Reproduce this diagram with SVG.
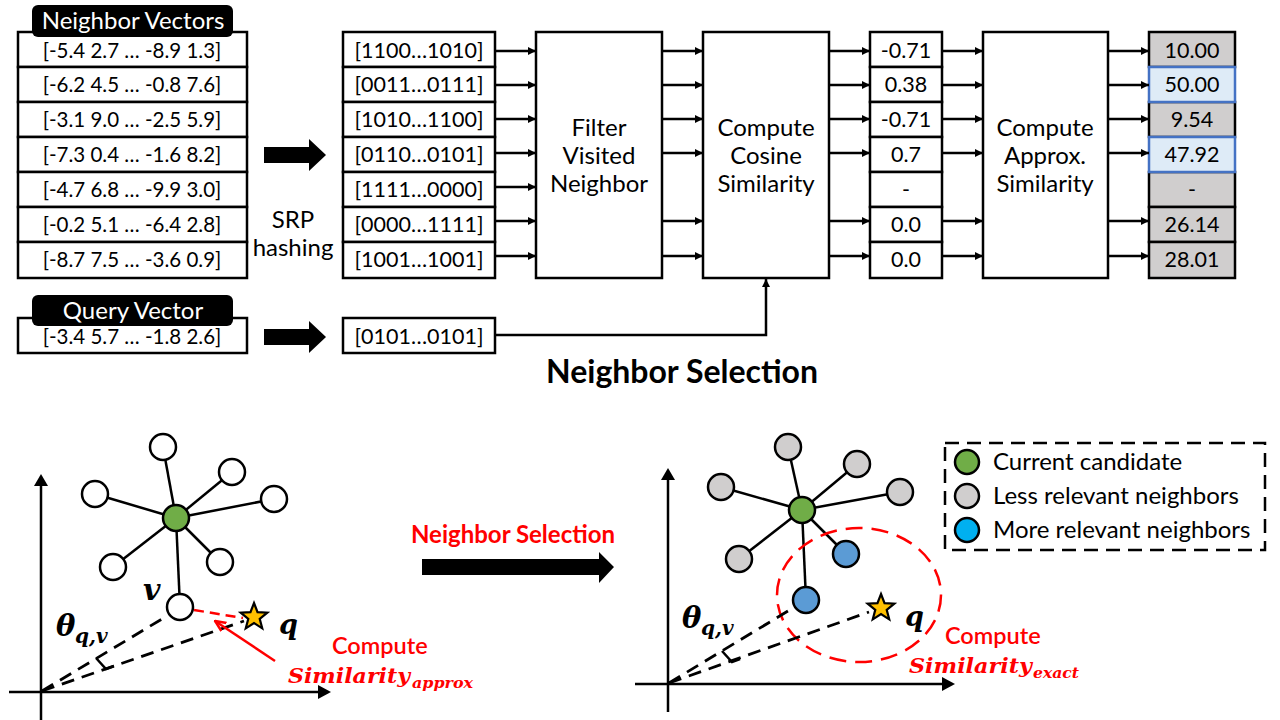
<svg xmlns="http://www.w3.org/2000/svg" width="1280" height="720" viewBox="0 0 1280 720">
<style>
text{font-family:Lato,"Noto Sans","DejaVu Sans",sans-serif;fill:#000}
.cell{fill:#fff;stroke:#000;stroke-width:2.5}
.gray{fill:#d0cece;stroke:#000;stroke-width:2.5}
.blue{fill:#deebf7;stroke:#4472c4;stroke-width:2.5}
.big{fill:#fff;stroke:#000;stroke-width:2.5}
.t20{font-size:20.5px;text-anchor:middle}
.t21{font-size:21.5px;text-anchor:middle}
.t24{font-size:24px;text-anchor:middle}
.lbl{fill:#fff;font-size:24px;text-anchor:middle}
.con{stroke:#000;stroke-width:2.5;fill:none}
.edge{stroke:#000;stroke-width:2.5}
.node{stroke:#000;stroke-width:2.5}
.dash{stroke:#000;stroke-width:2.8;stroke-dasharray:13 8;fill:none}
.math{font-family:"DejaVu Serif","Liberation Serif",serif;font-style:italic;font-weight:bold}
.red{fill:#ff0000}
</style>
<defs>
<marker id="ah" viewBox="0 0 10 10" refX="10" refY="5" markerWidth="9" markerHeight="8" markerUnits="userSpaceOnUse" orient="auto">
<path d="M0,0 L10,5 L0,10 z" fill="#000"/>
</marker>
<marker id="rah" viewBox="0 0 10 10" refX="9" refY="5" markerWidth="12" markerHeight="12" markerUnits="userSpaceOnUse" orient="auto">
<path d="M0,1 L9,5 L0,9" fill="none" stroke="#ff0000" stroke-width="2"/>
</marker>
<path id="star" d="M0,-14 L3.53,-4.85 L13.31,-4.33 L5.71,1.85 L8.23,11.33 L0,6 L-8.23,11.33 L-5.71,1.85 L-13.31,-4.33 L-3.53,-4.85 Z" fill="#ffc000" stroke="#000" stroke-width="2.2" stroke-linejoin="miter"/>
<path id="blockR" d="M0,-8 L45,-8 L45,-16 L62,0 L45,16 L45,8 L0,8 Z" fill="#000"/>
</defs>

<!-- Neighbor vectors -->
<g id="neighbor-vectors">
<rect class="cell" x="18" y="32" width="229" height="35"/>
<rect class="cell" x="18" y="67" width="229" height="35"/>
<rect class="cell" x="18" y="102" width="229" height="35"/>
<rect class="cell" x="18" y="137" width="229" height="35"/>
<rect class="cell" x="18" y="172" width="229" height="35"/>
<rect class="cell" x="18" y="207" width="229" height="35"/>
<rect class="cell" x="18" y="242" width="229" height="36"/>
<rect x="32" y="5" width="201" height="32" rx="6" fill="#000"/>
<text class="lbl" x="133" y="29">Neighbor Vectors</text>
<text class="t20" x="132" y="58">[-5.4 2.7 … -8.9 1.3]</text>
<text class="t20" x="132" y="92">[-6.2 4.5 … -0.8 7.6]</text>
<text class="t20" x="132" y="127">[-3.1 9.0 … -2.5 5.9]</text>
<text class="t20" x="132" y="162">[-7.3 0.4 … -1.6 8.2]</text>
<text class="t20" x="132" y="197">[-4.7 6.8 … -9.9 3.0]</text>
<text class="t20" x="132" y="232">[-0.2 5.1 … -6.4 2.8]</text>
<text class="t20" x="132" y="267">[-8.7 7.5 … -3.6 0.9]</text>
</g>

<g id="query-vector">
<rect class="cell" x="18" y="318" width="229" height="35"/>
<rect x="32" y="295" width="201" height="31" rx="6" fill="#000"/>
<text class="lbl" x="133" y="319">Query Vector</text>
<text class="t20" x="132" y="344">[-3.4 5.7 … -1.8 2.6]</text>
</g>

<g id="srp">
<use href="#blockR" x="264" y="155"/>
<use href="#blockR" x="264" y="337"/>
<text class="t24" x="293" y="228">SRP</text>
<text class="t24" x="293" y="256">hashing</text>
</g>

<!-- Hash codes -->
<g id="hash-codes">
<rect class="cell" x="343" y="32" width="152" height="35"/>
<rect class="cell" x="343" y="67" width="152" height="35"/>
<rect class="cell" x="343" y="102" width="152" height="35"/>
<rect class="cell" x="343" y="137" width="152" height="35"/>
<rect class="cell" x="343" y="172" width="152" height="35"/>
<rect class="cell" x="343" y="207" width="152" height="35"/>
<rect class="cell" x="343" y="242" width="152" height="36"/>
<text class="t21" x="419" y="58">[1100…1010]</text>
<text class="t21" x="419" y="92">[0011…0111]</text>
<text class="t21" x="419" y="127">[1010…1100]</text>
<text class="t21" x="419" y="162">[0110…0101]</text>
<text class="t21" x="419" y="197">[1111…0000]</text>
<text class="t21" x="419" y="232">[0000…1111]</text>
<text class="t21" x="419" y="267">[1001…1001]</text>
</g>

<g id="query-hash">
<rect class="cell" x="343" y="318" width="152" height="35"/>
<text class="t21" x="419" y="344">[0101…0101]</text>
</g>

<g id="filter">
<rect class="big" x="536" y="32" width="126" height="246"/>
<text class="t24" x="599" y="136">Filter</text>
<text class="t24" x="599" y="164">Visited</text>
<text class="t24" x="599" y="192">Neighbor</text>
</g>

<g id="cosine">
<rect class="big" x="703" y="32" width="126" height="246"/>
<text class="t24" x="766" y="136">Compute</text>
<text class="t24" x="766" y="164">Cosine</text>
<text class="t24" x="766" y="192">Similarity</text>
</g>

<g id="cosine-values">
<rect class="cell" x="870" y="32" width="72" height="35"/>
<rect class="cell" x="870" y="67" width="72" height="35"/>
<rect class="cell" x="870" y="102" width="72" height="35"/>
<rect class="cell" x="870" y="137" width="72" height="35"/>
<rect class="cell" x="870" y="172" width="72" height="35"/>
<rect class="cell" x="870" y="207" width="72" height="35"/>
<rect class="cell" x="870" y="242" width="72" height="36"/>
<text class="t21" x="906" y="58">-0.71</text>
<text class="t21" x="906" y="92">0.38</text>
<text class="t21" x="906" y="127">-0.71</text>
<text class="t21" x="906" y="162">0.7</text>
<text class="t21" x="906" y="197">-</text>
<text class="t21" x="906" y="232">0.0</text>
<text class="t21" x="906" y="267">0.0</text>
</g>

<g id="approx">
<rect class="big" x="983" y="32" width="125" height="246"/>
<text class="t24" x="1045" y="136">Compute</text>
<text class="t24" x="1045" y="164">Approx.</text>
<text class="t24" x="1045" y="192">Similarity</text>
</g>

<g id="approx-values">
<rect class="gray" x="1149" y="32" width="86" height="35"/>
<rect class="gray" x="1149" y="102" width="86" height="35"/>
<rect class="gray" x="1149" y="172" width="86" height="35"/>
<rect class="gray" x="1149" y="207" width="86" height="35"/>
<rect class="gray" x="1149" y="242" width="86" height="36"/>
<rect class="blue" x="1149" y="67" width="86" height="35"/>
<rect class="blue" x="1149" y="137" width="86" height="35"/>
<text class="t21" x="1192" y="58">10.00</text>
<text class="t21" x="1192" y="92">50.00</text>
<text class="t21" x="1192" y="127">9.54</text>
<text class="t21" x="1192" y="162">47.92</text>
<text class="t21" x="1192" y="197">-</text>
<text class="t21" x="1192" y="232">26.14</text>
<text class="t21" x="1192" y="267">28.01</text>
</g>

<g id="connectors">
<line class="con" x1="495" y1="51" x2="536" y2="51" marker-end="url(#ah)"/>
<line class="con" x1="495" y1="85" x2="536" y2="85" marker-end="url(#ah)"/>
<line class="con" x1="495" y1="119" x2="536" y2="119" marker-end="url(#ah)"/>
<line class="con" x1="495" y1="153" x2="536" y2="153" marker-end="url(#ah)"/>
<line class="con" x1="495" y1="187" x2="536" y2="187" marker-end="url(#ah)"/>
<line class="con" x1="495" y1="221" x2="536" y2="221" marker-end="url(#ah)"/>
<line class="con" x1="495" y1="256" x2="536" y2="256" marker-end="url(#ah)"/>
<line class="con" x1="662" y1="51" x2="703" y2="51" marker-end="url(#ah)"/>
<line class="con" x1="662" y1="85" x2="703" y2="85" marker-end="url(#ah)"/>
<line class="con" x1="662" y1="119" x2="703" y2="119" marker-end="url(#ah)"/>
<line class="con" x1="662" y1="153" x2="703" y2="153" marker-end="url(#ah)"/>
<line class="con" x1="662" y1="221" x2="703" y2="221" marker-end="url(#ah)"/>
<line class="con" x1="662" y1="256" x2="703" y2="256" marker-end="url(#ah)"/>
<line class="con" x1="829" y1="51" x2="870" y2="51" marker-end="url(#ah)"/>
<line class="con" x1="829" y1="85" x2="870" y2="85" marker-end="url(#ah)"/>
<line class="con" x1="829" y1="119" x2="870" y2="119" marker-end="url(#ah)"/>
<line class="con" x1="829" y1="153" x2="870" y2="153" marker-end="url(#ah)"/>
<line class="con" x1="829" y1="221" x2="870" y2="221" marker-end="url(#ah)"/>
<line class="con" x1="829" y1="256" x2="870" y2="256" marker-end="url(#ah)"/>
<line class="con" x1="942" y1="51" x2="983" y2="51" marker-end="url(#ah)"/>
<line class="con" x1="942" y1="85" x2="983" y2="85" marker-end="url(#ah)"/>
<line class="con" x1="942" y1="119" x2="983" y2="119" marker-end="url(#ah)"/>
<line class="con" x1="942" y1="153" x2="983" y2="153" marker-end="url(#ah)"/>
<line class="con" x1="942" y1="221" x2="983" y2="221" marker-end="url(#ah)"/>
<line class="con" x1="942" y1="256" x2="983" y2="256" marker-end="url(#ah)"/>
<line class="con" x1="1108" y1="51" x2="1149" y2="51" marker-end="url(#ah)"/>
<line class="con" x1="1108" y1="85" x2="1149" y2="85" marker-end="url(#ah)"/>
<line class="con" x1="1108" y1="119" x2="1149" y2="119" marker-end="url(#ah)"/>
<line class="con" x1="1108" y1="153" x2="1149" y2="153" marker-end="url(#ah)"/>
<line class="con" x1="1108" y1="221" x2="1149" y2="221" marker-end="url(#ah)"/>
<line class="con" x1="1108" y1="256" x2="1149" y2="256" marker-end="url(#ah)"/>
<polyline class="con" points="495,335 766,335 766,279" marker-end="url(#ah)"/>
</g>

<text x="682" y="383" font-size="32" font-weight="bold" text-anchor="middle">Neighbor Selection</text>

<!-- Bottom left scene -->
<g id="scene-left">
<line class="con" x1="41" y1="720" x2="41" y2="484" stroke-width="3"/>
<path d="M34,486 L41,474 L48,486 Z" fill="#000"/>
<line class="con" x1="9" y1="692" x2="320" y2="692" stroke-width="3"/>
<path d="M318,685 L331,692 L318,699 Z" fill="#000"/>
<line class="edge" x1="176" y1="518" x2="163" y2="447"/>
<line class="edge" x1="176" y1="518" x2="232" y2="472"/>
<line class="edge" x1="176" y1="518" x2="274" y2="499"/>
<line class="edge" x1="176" y1="518" x2="95" y2="494"/>
<line class="edge" x1="176" y1="518" x2="113" y2="567"/>
<line class="edge" x1="176" y1="518" x2="220" y2="562"/>
<line class="edge" x1="176" y1="518" x2="180" y2="607"/>
<circle class="node" cx="163" cy="447" r="13" fill="#fff"/>
<circle class="node" cx="232" cy="472" r="13" fill="#fff"/>
<circle class="node" cx="274" cy="499" r="13" fill="#fff"/>
<circle class="node" cx="95" cy="494" r="13" fill="#fff"/>
<circle class="node" cx="113" cy="567" r="13" fill="#fff"/>
<circle class="node" cx="220" cy="562" r="13" fill="#fff"/>
<circle class="node" cx="176" cy="518" r="13" fill="#70ad47"/>
<line class="dash" x1="42" y1="691" x2="167" y2="616"/>
<line class="dash" x1="42" y1="691" x2="244" y2="621"/>
<polyline class="con" points="96,658 106,669 114,666"/>
<circle class="node" cx="180" cy="607" r="13" fill="#fff"/>
<line x1="194" y1="610" x2="243" y2="618" stroke="#ff0000" stroke-width="2.5" stroke-dasharray="10 6"/>
<use href="#star" x="254" y="617"/>
<line x1="275" y1="661" x2="215" y2="621" stroke="#ff0000" stroke-width="2.5" marker-end="url(#rah)"/>
<text class="math" x="143" y="600" font-size="30">v</text>
<text class="math" x="56" y="636" font-size="29">θ</text>
<text class="math" x="75" y="643" font-size="20">q,v</text>
<text class="math" x="279" y="634" font-size="27">q</text>
<text class="red" x="332" y="654" font-size="23.5" font-weight="600">Compute</text>
<text class="math red" x="288" y="683" font-size="20" textLength="122" lengthAdjust="spacingAndGlyphs">Similarity</text>
<text class="math red" x="412" y="688" font-size="15" textLength="61" lengthAdjust="spacingAndGlyphs">approx</text>
</g>

<g id="transition">
<text x="513" y="543" font-size="24" font-weight="bold" text-anchor="middle" class="red">Neighbor Selection</text>
<path d="M422,559 L599,559 L599,552 L614,567 L599,583 L599,575 L422,575 Z" fill="#000"/>
</g>

<!-- Bottom right scene -->
<g id="scene-right">
<line class="con" x1="668" y1="712" x2="668" y2="478" stroke-width="3"/>
<path d="M661,480 L668,468 L675,480 Z" fill="#000"/>
<line class="con" x1="635" y1="684" x2="944" y2="684" stroke-width="3"/>
<path d="M942,677 L955,684 L942,691 Z" fill="#000"/>
<line class="edge" x1="802" y1="510" x2="788" y2="447"/>
<line class="edge" x1="802" y1="510" x2="857" y2="464"/>
<line class="edge" x1="802" y1="510" x2="900" y2="492"/>
<line class="edge" x1="802" y1="510" x2="721" y2="487"/>
<line class="edge" x1="802" y1="510" x2="739" y2="559"/>
<line class="edge" x1="802" y1="510" x2="846" y2="554"/>
<line class="edge" x1="802" y1="510" x2="806" y2="600"/>
<circle class="node" cx="788" cy="447" r="13" fill="#d0cece"/>
<circle class="node" cx="857" cy="464" r="13" fill="#d0cece"/>
<circle class="node" cx="900" cy="492" r="13" fill="#d0cece"/>
<circle class="node" cx="721" cy="487" r="13" fill="#d0cece"/>
<circle class="node" cx="739" cy="559" r="13" fill="#d0cece"/>
<circle class="node" cx="846" cy="554" r="13" fill="#5b9bd5"/>
<circle class="node" cx="802" cy="510" r="13" fill="#70ad47"/>
<ellipse cx="859" cy="595" rx="82" ry="67" fill="none" stroke="#ff0000" stroke-width="2.5" stroke-dasharray="17 9"/>
<line class="dash" x1="669" y1="683" x2="793" y2="608"/>
<line class="dash" x1="669" y1="683" x2="869" y2="612"/>
<polyline class="con" points="722,651 732,662 740,659"/>
<circle class="node" cx="806" cy="600" r="13" fill="#5b9bd5"/>
<use href="#star" x="881" y="608"/>
<text class="math" x="682" y="628" font-size="29">θ</text>
<text class="math" x="701" y="635" font-size="20">q,v</text>
<text class="math" x="905" y="626" font-size="27">q</text>
<text class="red" x="945" y="644" font-size="23.5" font-weight="600">Compute</text>
<text class="math red" x="909" y="673" font-size="20" textLength="123" lengthAdjust="spacingAndGlyphs">Similarity</text>
<text class="math red" x="1033" y="678" font-size="15" textLength="46" lengthAdjust="spacingAndGlyphs">exact</text>
</g>

<g id="legend">
<rect x="945" y="443" width="320" height="107" fill="#fff" stroke="#000" stroke-width="2.5" stroke-dasharray="14 8"/>
<circle class="node" cx="967" cy="462" r="12" fill="#70ad47"/>
<circle class="node" cx="967" cy="496" r="12" fill="#d0cece"/>
<circle class="node" cx="967" cy="530" r="12" fill="#00b0f0"/>
<text x="993" y="470" font-size="24">Current candidate</text>
<text x="993" y="504" font-size="24">Less relevant neighbors</text>
<text x="993" y="538" font-size="24">More relevant neighbors</text>
</g>
</svg>
